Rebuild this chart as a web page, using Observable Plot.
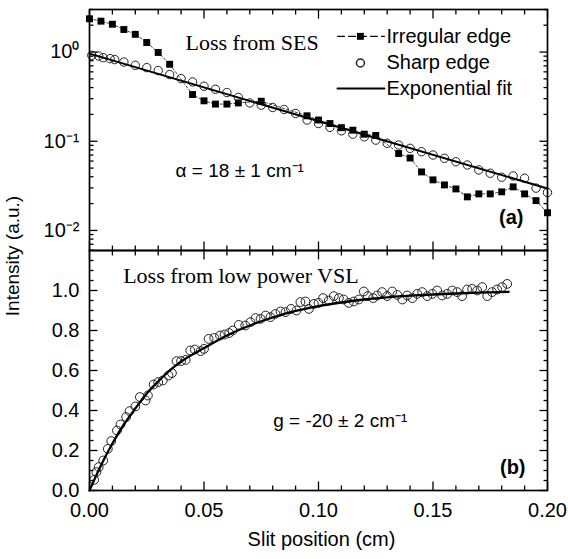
<!DOCTYPE html>
<html><head><meta charset="utf-8">
<script src="https://cdn.jsdelivr.net/npm/d3@7"></script>
<script src="https://cdn.jsdelivr.net/npm/@observablehq/plot@0.6"></script>
<style>
body{margin:0;background:#fff;}
#wrap{position:relative;width:568px;height:559px;font-family:"Liberation Sans",Arial,sans-serif;color:#000;}
#panelA,#panelB{position:absolute;left:0;}
#panelA{top:0}
#panelB{top:248px}
#ylab{position:absolute;left:13px;top:256px;transform:translate(-50%,-50%) rotate(-90deg);font-size:19px;white-space:nowrap;}
</style></head>
<body><div id="wrap"><div id="panelA"></div><div id="panelB"></div><div id="ylab">Intensity (a.u.)</div></div>
<script>
// ---- Panel (a): loss from SES (log scale) ----
const squareX = [0,0.005,0.01,0.015,0.02,0.025,0.03,0.035,0.045,0.05,0.055,0.06,0.065,0.075,0.095,0.1,0.105,0.11,0.115,0.12,0.125,0.135,0.14,0.145,0.15,0.155,0.16,0.165,0.17,0.175,0.18,0.185,0.19,0.195,0.2];
const squareY = [2.36,2.22,2.05,1.79,1.58,1.28,0.99,0.73,0.334,0.284,0.261,0.261,0.269,0.281,0.193,0.173,0.158,0.142,0.133,0.12,0.116,0.0729,0.0649,0.0453,0.0369,0.0324,0.0292,0.0238,0.0257,0.0257,0.0271,0.0308,0.0257,0.0216,0.0158];
const circleAX = [0.001,0.004,0.006,0.009,0.011,0.015,0.02,0.025,0.03,0.035,0.04,0.045,0.05,0.055,0.06,0.065,0.07,0.075,0.08,0.085,0.09,0.095,0.1,0.105,0.11,0.115,0.12,0.125,0.13,0.135,0.14,0.145,0.15,0.155,0.16,0.165,0.17,0.175,0.18,0.185,0.19,0.195,0.2];
const circleAY = [0.919,0.902,0.865,0.844,0.823,0.773,0.71,0.669,0.62,0.559,0.504,0.462,0.414,0.383,0.352,0.31,0.269,0.254,0.239,0.227,0.205,0.173,0.158,0.143,0.131,0.12,0.112,0.103,0.0948,0.0907,0.0833,0.0763,0.0701,0.0644,0.059,0.0542,0.0477,0.0438,0.0395,0.0408,0.0385,0.0298,0.0266];
const fitAX = [0, 0.2];
const fitAY = [0.96, 0.0295];

// ---- Panel (b): loss from low power VSL ----
const circleBX = [0.002,0.003,0.004,0.006,0.008,0.0095,0.012,0.0135,0.016,0.0175,0.02,0.022,0.0245,0.0255,0.028,0.03,0.032,0.0345,0.036,0.038,0.04,0.042,0.044,0.046,0.0485,0.05,0.052,0.0545,0.057,0.059,0.061,0.0625,
0.0652,0.068,0.0703,0.0725,0.0747,0.0769,0.079,0.0812,0.0834,0.0856,0.088,0.0904,0.0921,0.0943,0.0958,0.098,0.1,0.102,0.1045,0.1067,0.1089,0.111,0.1132,0.1154,0.1176,0.1198,0.1215,0.1239,0.1256,0.1278,0.13,0.1322,0.1344,0.1366,0.1387,0.141,0.1431,0.1453,0.1475,0.1497,0.1518,0.154,0.1562,0.1584,0.1606,0.1627,0.1649,0.1671,0.1693,0.1715,0.1737,0.1758,0.178,0.1802,0.1824];
const circleBY = [0.053,0.092,0.117,0.15,0.208,0.247,0.3,0.33,0.367,0.397,0.42,0.467,0.45,0.475,0.53,0.542,0.55,0.575,0.587,0.647,0.647,0.653,0.7,0.705,0.697,0.708,0.758,0.763,0.775,0.78,0.787,0.8,
0.828,0.825,0.842,0.862,0.858,0.875,0.867,0.883,0.895,0.892,0.908,0.9,0.942,0.945,0.908,0.933,0.938,0.962,0.95,0.972,0.962,0.955,0.938,0.945,0.955,0.995,0.972,0.962,0.975,0.992,0.972,0.995,0.978,0.955,0.975,0.962,0.983,0.992,0.972,0.983,1.0,0.975,0.983,1.0,0.992,0.972,1.005,1.008,1.0,1.017,0.972,0.992,1.005,1.017,1.033];
const fitBX = [0,0.005,0.01,0.015,0.02,0.025,0.03,0.035,0.04,0.05,0.06,0.07,0.08,0.09,0.1,0.11,0.12,0.13,0.14,0.15,0.16,0.17,0.183];
const fitBY = [0,0.125,0.235,0.33,0.41,0.485,0.545,0.6,0.645,0.712,0.775,0.825,0.865,0.898,0.922,0.94,0.955,0.966,0.974,0.98,0.985,0.989,0.993];

// ---- Ticks and labels ----
const xMajor = [0,0.05,0.1,0.15,0.2];
const xMajorLabels = ["0.00","0.05","0.10","0.15","0.20"];
const xMinor = [0.01,0.02,0.03,0.04,0.06,0.07,0.08,0.09,0.11,0.12,0.13,0.14,0.16,0.17,0.18,0.19];
const yAMajor = [0.01,0.1,1];
const yAMajorLabels = ["10\u207B\u00B2","10\u207B\u00B9","10\u2070"];
const yAMinor = [0.006,0.007,0.008,0.009,0.02,0.03,0.04,0.05,0.06,0.07,0.08,0.09,0.2,0.3,0.4,0.5,0.6,0.7,0.8,0.9,2,3];
const yBMajor = [0,0.2,0.4,0.6,0.8,1.0];
const yBMajorLabels = ["0.0","0.2","0.4","0.6","0.8","1.0"];
const yBMinor = [0.05,0.1,0.15,0.25,0.3,0.35,0.45,0.5,0.55,0.65,0.7,0.75,0.85,0.9,0.95,1.05,1.1,1.15];
const legendLabels = ["Irregular edge","Sharp edge","Exponential fit"];
const xTitle = "Slit position (cm)";
const titleA = "Loss from SES";
const titleB = "Loss from low power VSL";
const noteA = "\u03B1 = 18 \u00B1 1 cm\u207B\u00B9";
const noteB = "g = -20 \u00B1 2 cm\u207B\u00B9";

const squares = squareX.map((x,i)=>({x, y: squareY[i]}));
const circlesA = circleAX.map((x,i)=>({x, y: circleAY[i]}));
const fitA = fitAX.map((x,i)=>({x, y: fitAY[i]}));
const circlesB = circleBX.map((x,i)=>({x, y: circleBY[i]}));
const fitB = fitBX.map((x,i)=>({x, y: fitBY[i]}));

const FONT = "Liberation Sans, Arial, sans-serif";
const SERIF = "Liberation Serif, Times New Roman, serif";

const X_DOM = [0, 0.2], YA_DOM = [0.00596, 3.0], YB_DOM = [0, 1.2];
const FRAME_W = 458, HA = 241, HB = 240;
// tick length in px -> offset in data units for each scale
const xOff = px => px * (X_DOM[1]-X_DOM[0]) / FRAME_W;
const yAFac = px => Math.pow(10, px * Math.log10(YA_DOM[1]/YA_DOM[0]) / HA);
const yBOff = px => px * (YB_DOM[1]-YB_DOM[0]) / HB;

// inward tick segments, drawn through the scales with link marks
function ticksA(){
  const segs = [];
  const addX = (vals, px) => vals.forEach(v => {
    segs.push({x1:v, x2:v, y1:YA_DOM[1], y2:YA_DOM[1]/yAFac(px)});
    segs.push({x1:v, x2:v, y1:YA_DOM[0], y2:YA_DOM[0]*yAFac(px)});
  });
  const addY = (vals, px) => vals.forEach(v => {
    segs.push({x1:X_DOM[0], x2:X_DOM[0]+xOff(px), y1:v, y2:v});
    segs.push({x1:X_DOM[1], x2:X_DOM[1]-xOff(px), y1:v, y2:v});
  });
  addX(xMajor, 9); addX(xMinor, 5); addY(yAMajor, 8); addY(yAMinor, 4);
  return Plot.link(segs, {x1:"x1", y1:"y1", x2:"x2", y2:"y2", stroke:"#000", strokeWidth:1.3});
}
function ticksB(){
  const segs = [];
  const addX = (vals, px) => vals.forEach(v => {
    segs.push({x1:v, x2:v, y1:YB_DOM[1], y2:YB_DOM[1]-yBOff(px)});
    segs.push({x1:v, x2:v, y1:YB_DOM[0], y2:YB_DOM[0]+yBOff(px)});
  });
  const addY = (vals, px) => vals.forEach(v => {
    segs.push({x1:X_DOM[0], x2:X_DOM[0]+xOff(px), y1:v, y2:v});
    segs.push({x1:X_DOM[1], x2:X_DOM[1]-xOff(px), y1:v, y2:v});
  });
  addX(xMajor, 9); addX(xMinor, 5); addY(yBMajor, 8); addY(yBMinor, 4);
  return Plot.link(segs, {x1:"x1", y1:"y1", x2:"x2", y2:"y2", stroke:"#000", strokeWidth:1.3});
}

const common = {
  width:568, marginLeft:89, marginRight:21,
  style:{fontFamily:FONT, background:"transparent", color:"#000", overflow:"visible"}
};

const plotA = Plot.plot({
  ...common, height:252, marginTop:9, marginBottom:2,
  x:{domain:X_DOM, label:null, axis:null},
  y:{type:"log", domain:YA_DOM, label:null},
  marks:[
    ticksA(),
    Plot.axisY(yAMajor,{anchor:"left", tickSize:0, tickPadding:10, fontSize:20, label:null,
      tickFormat:d=>yAMajorLabels[yAMajor.indexOf(d)]}),
    Plot.line(squares,{x:"x", y:"y", stroke:"#333", strokeWidth:0.9, strokeDasharray:"2.5,2"}),
    Plot.dot(squares,{x:"x", y:"y", symbol:"square", r:3.9, fill:"#000", stroke:"none"}),
    Plot.dot(circlesA,{x:"x", y:"y", r:4.2, stroke:"#222", strokeWidth:1, fill:"none"}),
    Plot.line(fitA,{x:"x", y:"y", stroke:"#000", strokeWidth:2}),
    Plot.text([titleA],{x:0.0419, y:1.25, text:d=>d, textAnchor:"start", fontFamily:SERIF, fontSize:22}),
    Plot.text([noteA],{x:0.0376, y:0.0465, text:d=>d, textAnchor:"start", fontSize:19}),
    Plot.text(["(a)"],{x:0.1895, y:0.0139, text:d=>d, textAnchor:"end", fontSize:20, fontWeight:"bold"}),
    Plot.line([{x:0.1083,y:1.5},{x:0.1288,y:1.5}],{x:"x", y:"y", stroke:"#000", strokeWidth:1.2, strokeDasharray:"7,4"}),
    Plot.dot([{x:0.1183,y:1.5}],{x:"x", y:"y", symbol:"square", r:3.9, fill:"#000"}),
    Plot.dot([{x:0.1183,y:0.754}],{x:"x", y:"y", r:4, stroke:"#222", fill:"none"}),
    Plot.line([{x:0.1083,y:0.39},{x:0.1288,y:0.39}],{x:"x", y:"y", stroke:"#000", strokeWidth:2}),
    Plot.text([legendLabels[0]],{x:0.1297, y:1.5, text:d=>d, textAnchor:"start", fontSize:20}),
    Plot.text([legendLabels[1]],{x:0.1297, y:0.754, text:d=>d, textAnchor:"start", fontSize:20}),
    Plot.text([legendLabels[2]],{x:0.1297, y:0.39, text:d=>d, textAnchor:"start", fontSize:20}),
    Plot.frame({stroke:"#000", strokeWidth:1.7})
  ]
});

const plotB = Plot.plot({
  ...common, height:311, marginTop:2, marginBottom:69,
  x:{domain:X_DOM, label:null},
  y:{domain:YB_DOM, label:null},
  marks:[
    ticksB(),
    Plot.axisY(yBMajor,{anchor:"left", tickSize:0, tickPadding:10, fontSize:20, label:null,
      tickFormat:d=>yBMajorLabels[yBMajor.indexOf(d)]}),
    Plot.axisX(xMajor,{anchor:"bottom", tickSize:0, tickPadding:12, fontSize:20, label:null,
      tickFormat:d=>xMajorLabels[xMajor.indexOf(d)]}),
    Plot.dot(circlesB,{x:"x", y:"y", r:4.4, stroke:"#222", strokeWidth:1, fill:"none"}),
    Plot.line(fitB,{x:"x", y:"y", curve:"monotone-x", stroke:"#000", strokeWidth:2.3}),
    Plot.text([titleB],{x:0.0147, y:1.075, text:d=>d, textAnchor:"start", fontFamily:SERIF, fontSize:22}),
    Plot.text([noteB],{x:0.0802, y:0.35, text:d=>d, textAnchor:"start", fontSize:19}),
    Plot.text(["(b)"],{x:0.1904, y:0.1165, text:d=>d, textAnchor:"end", fontSize:20, fontWeight:"bold"}),
    Plot.text([xTitle],{frameAnchor:"bottom", dy:55, dx:3, text:d=>d, fontSize:20}),
    Plot.frame({stroke:"#000", strokeWidth:1.7})
  ]
});

document.getElementById("panelA").appendChild(plotA);
document.getElementById("panelB").appendChild(plotB);
</script>
</body></html>
